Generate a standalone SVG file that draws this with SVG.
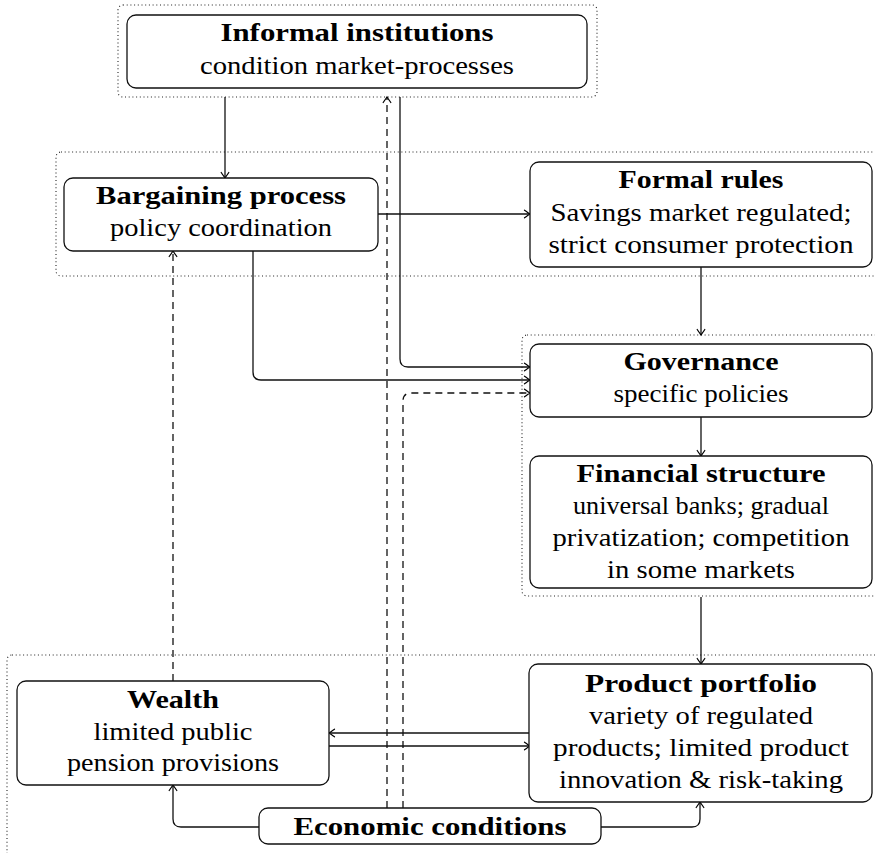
<svg xmlns="http://www.w3.org/2000/svg" width="875" height="853" viewBox="0 0 875 853">
  <defs>
    <marker id="arr" markerUnits="userSpaceOnUse" markerWidth="12" markerHeight="12" viewBox="-8 -6 10 12" refX="0" refY="0" orient="auto">
      <path d="M -5.5 -3.8 Q -1.3 -0.8 0 0 Q -1.3 0.8 -5.5 3.8" fill="none" stroke="#000" stroke-width="1.25" stroke-linecap="round" stroke-dasharray="none"/>
    </marker>
    <style>
      .grp { fill: none; stroke: #222; stroke-width: 1.1; stroke-dasharray: 1 2.7; }
      .node { fill: #fff; stroke: #111; stroke-width: 1.3; }
      .t { font-family: "Liberation Serif", "Times New Roman", serif; font-size: 25.5px; fill: #000; text-anchor: middle; }
      .b { font-weight: bold; }
      .c { fill: none; stroke: #111; stroke-width: 1.3; marker-end: url(#arr); }
      .d { stroke-dasharray: 7 5; }
    </style>
  </defs>

  <!-- dotted grouping frames -->
  <g id="frames">
    <rect class="grp" x="118" y="5" width="479" height="92" rx="5"/>
    <rect class="grp" x="56" y="152" width="840" height="124" rx="5"/>
    <rect class="grp" x="522" y="335" width="370" height="261" rx="5"/>
    <rect class="grp" x="7" y="655" width="890" height="220" rx="5"/>
  </g>

  <!-- connectors -->
  <g id="connectors">
    <path class="c" d="M225 97 V178"/>
    <path class="c" d="M400 97 V359 Q400 367 408 367 H530"/>
    <path class="c" d="M378 214 H530"/>
    <path class="c" d="M253 251 V372 Q253 380 261 380 H530"/>
    <path class="c" d="M701 267 V335"/>
    <path class="c" d="M701 417 V456"/>
    <path class="c" d="M701 597 V664"/>
    <path class="c" d="M530 733 H329"/>
    <path class="c" d="M329 746 H530"/>
    <path class="c" d="M259 827 H181 Q173 827 173 819 V785"/>
    <path class="c" d="M601 827 H692 Q700 827 700 819 V802"/>
    <path class="c d" d="M173 681 V251"/>
    <path class="c d" d="M387 808 V97"/>
    <path class="c d" d="M403 808 V401 Q403 393 411 393 H530"/>
  </g>

  <g id="informal">
    <rect class="node" x="127" y="15" width="460" height="73" rx="9"/>
    <text class="t b" x="357" y="41" textLength="273" lengthAdjust="spacingAndGlyphs">Informal institutions</text>
    <text class="t" x="357" y="74" textLength="314" lengthAdjust="spacingAndGlyphs">condition market-processes</text>
  </g>

  <g id="bargaining">
    <rect class="node" x="64" y="178" width="314" height="73" rx="9"/>
    <text class="t b" x="221" y="204" textLength="250" lengthAdjust="spacingAndGlyphs">Bargaining process</text>
    <text class="t" x="221" y="236" textLength="222" lengthAdjust="spacingAndGlyphs">policy coordination</text>
  </g>

  <g id="formal">
    <rect class="node" x="530" y="162" width="342" height="105" rx="9"/>
    <text class="t b" x="701" y="188" textLength="165" lengthAdjust="spacingAndGlyphs">Formal rules</text>
    <text class="t" x="701" y="221" textLength="301" lengthAdjust="spacingAndGlyphs">Savings market regulated;</text>
    <text class="t" x="701" y="253" textLength="305" lengthAdjust="spacingAndGlyphs">strict consumer protection</text>
  </g>

  <g id="governance">
    <rect class="node" x="530" y="344" width="342" height="73" rx="9"/>
    <text class="t b" x="701" y="370" textLength="155" lengthAdjust="spacingAndGlyphs">Governance</text>
    <text class="t" x="701" y="402" textLength="175" lengthAdjust="spacingAndGlyphs">specific policies</text>
  </g>

  <g id="financial">
    <rect class="node" x="530" y="456" width="342" height="132" rx="9"/>
    <text class="t b" x="701" y="482" textLength="249" lengthAdjust="spacingAndGlyphs">Financial structure</text>
    <text class="t" x="701" y="514" textLength="256" lengthAdjust="spacingAndGlyphs">universal banks; gradual</text>
    <text class="t" x="701" y="546" textLength="297" lengthAdjust="spacingAndGlyphs">privatization; competition</text>
    <text class="t" x="701" y="578" textLength="188" lengthAdjust="spacingAndGlyphs">in some markets</text>
  </g>

  <g id="product">
    <rect class="node" x="529" y="664" width="343" height="138" rx="9"/>
    <text class="t b" x="701" y="692" textLength="232" lengthAdjust="spacingAndGlyphs">Product portfolio</text>
    <text class="t" x="701" y="724" textLength="224" lengthAdjust="spacingAndGlyphs">variety of regulated</text>
    <text class="t" x="701" y="756" textLength="296" lengthAdjust="spacingAndGlyphs">products; limited product</text>
    <text class="t" x="701" y="788" textLength="284" lengthAdjust="spacingAndGlyphs">innovation &amp; risk-taking</text>
  </g>

  <g id="wealth">
    <rect class="node" x="17" y="681" width="312" height="104" rx="9"/>
    <text class="t b" x="173" y="708" textLength="92" lengthAdjust="spacingAndGlyphs">Wealth</text>
    <text class="t" x="173" y="740" textLength="159" lengthAdjust="spacingAndGlyphs">limited public</text>
    <text class="t" x="173" y="771" textLength="212" lengthAdjust="spacingAndGlyphs">pension provisions</text>
  </g>

  <g id="economic">
    <rect class="node" x="259" y="808" width="342" height="36" rx="9"/>
    <text class="t b" x="430" y="835" textLength="273" lengthAdjust="spacingAndGlyphs">Economic conditions</text>
  </g>
</svg>
